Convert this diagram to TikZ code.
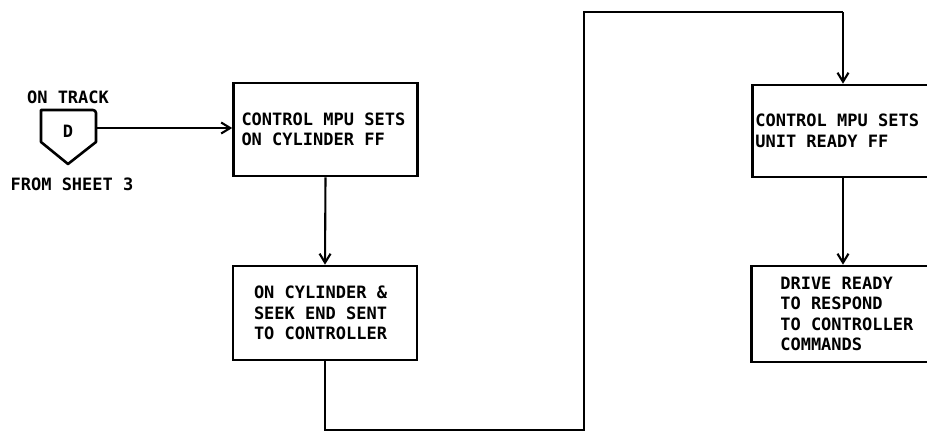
\documentclass[tikz,border=0pt]{standalone}
\usepackage{fontspec}
\setmonofont{DejaVu Sans Mono}
\usetikzlibrary{arrows.meta}
\newcommand\diagfont{\ttfamily\bfseries\fontsize{17}{20.5}\selectfont}
\begin{document}
\begin{tikzpicture}[x=1pt,y=-1pt,
  txt/.style={font=\diagfont,execute at begin node={\spaceskip=0.602em\relax}},
  box/.style={txt,draw,line width=2.6pt,rectangle,align=left,inner ysep=0pt},
  conn/.style={line width=2.1pt},
  arr/.style={conn,-{Straight Barb[length=9pt,width=11pt,line width=2.1pt]}},
  lbl/.style={txt,inner sep=0pt}]
\useasboundingbox (0,0) rectangle (927,432);
\clip (0,0) rectangle (927,432);
% connector symbol
\coordinate (p1) at (41,110);
\coordinate (p2) at (96,110);
\coordinate (p3) at (96,142);
\coordinate (p4) at (68,164);
\coordinate (p5) at (41,142);
\draw[line width=2.6pt,line join=round] (p5) -- (p1) [rounded corners=3pt] -- (p2) [sharp corners] -- (p3) -- (p4) -- cycle;
\node[lbl] (d) at (68,131) {D};
\node[lbl] (ontrack) at (68,97) {ON TRACK};
\node[lbl] (from) at (72,184) {FROM SHEET 3};
\coordinate (pe) at (96,128);
% boxes
\node[box,minimum width=184pt,minimum height=93pt,text width=168pt,inner xsep=8pt] (b1) at (325.5,129.5) {CONTROL MPU SETS\\ON CYLINDER FF};
\node[box,minimum width=184pt,minimum height=94pt,text width=142pt,inner xsep=21pt] (b2) at (325,313) {ON CYLINDER \&\\SEEK END SENT\\TO CONTROLLER};
\node[box,anchor=west,minimum height=92pt,text width=180pt,inner xsep=3pt] (b3) at (751,131) {CONTROL MPU SETS\\UNIT READY FF};
\node[box,anchor=west,minimum height=96pt,text width=150pt,inner xsep=29pt] (b4) at (750,314) {DRIVE READY\\TO RESPOND\\TO CONTROLLER\\COMMANDS};
% connectors
\coordinate (c2) at (584,430);
\coordinate (c4) at (843,12);
\draw[arr] (pe) -- (b1.west |- pe);
\draw[arr] (b1.south) -- (b2.north);
\draw[conn] (b2.south) |- (c2) |- (c4);
\draw[arr] (c4) -- (b3.north -| c4);
\draw[arr] (b3.south -| c4) -- (b4.north -| c4);
\end{tikzpicture}
\end{document}
